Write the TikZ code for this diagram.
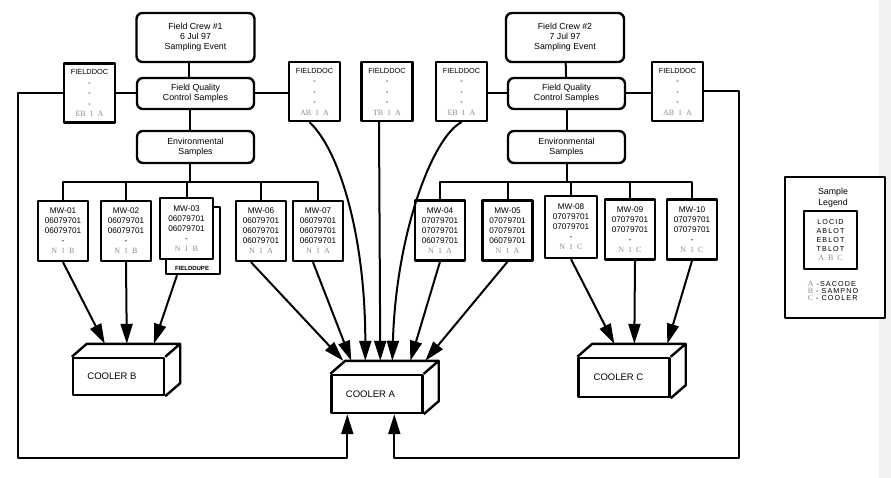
\documentclass[tikz,border=0pt]{standalone}
\usepackage{fontspec}
\setmainfont{Liberation Sans}
\newfontfamily\serifcode{Liberation Serif}
\newfontfamily\spaced[LetterSpace=15]{Liberation Sans}
\usetikzlibrary{arrows.meta}
\def\cd#1{{\serifcode\fontsize{8}{10}\selectfont\color{black!45}#1}}
\begin{document}
\begin{tikzpicture}[x=1pt,y=-1pt,line join=round,
	>={Triangle[length=20pt,width=12pt]},
	box/.style={draw,line width=2.4pt,fill=white,inner sep=1pt,align=center},
	crew/.style={box,rounded corners=6pt,minimum width=118pt,font=\fontsize{8.8}{10}\selectfont},
	doc/.style={box,minimum width=51pt,minimum height=59pt,font=\fontsize{7.4}{10.5}\selectfont},
	mw/.style={box,minimum width=50pt,minimum height=60pt,font=\fontsize{8.2}{10}\selectfont},
	cooler/.style={box,minimum width=91pt,minimum height=38pt,font=\fontsize{9.5}{11}\selectfont},
	wall/.style={line width=2.4pt},
	link/.style={line width=2pt},
	arr/.style={link,->}]
			\useasboundingbox (0,0) rectangle (891,478);
			\fill[black!5] (879,0) rectangle (891,478);
			\def\lid(#1){\draw[wall] (#1.north west) -- ++(15,-13) -| ([shift={(15,-13)}]#1.south east) -- (#1.south east) (#1.north east) -- ++(15,-13);}
			\node[crew,minimum height=49pt] (crewa) at (195.5,37.5) {Field Crew \#1\\6 Jul 97\\Sampling Event};
			\node[crew,minimum width=117pt,minimum height=31pt] (fqca) at (195.5,93.5) {Field Quality\\Control Samples};
			\node[crew,minimum width=117pt,minimum height=32pt] (enva) at (195.5,147) {Environmental\\Samples};
			\node[crew,minimum height=49pt] (crewb) at (565,37.5) {Field Crew \#2\\7 Jul 97\\Sampling Event};
			\node[crew,minimum width=117pt,minimum height=31pt] (fqcb) at (566.5,93.5) {Field Quality\\Control Samples};
			\node[crew,minimum width=117pt,minimum height=32pt] (envb) at (566.5,147) {Environmental\\Samples};
			\node[doc] (docl) at (89.5,93) {FIELDDOC\\-\\-\\-\\\cd{EB\enspace 1\enspace A}};
			\node[doc] (doca) at (314.5,91.5) {FIELDDOC\\-\\-\\-\\\cd{AB\enspace 1\enspace A}};
			\node[doc] (doct) at (387,91.5) {FIELDDOC\\-\\-\\-\\\cd{TB\enspace 1\enspace A}};
			\node[doc] (doce) at (461.5,91.5) {FIELDDOC\\-\\-\\-\\\cd{EB\enspace 1\enspace A}};
			\node[doc] (docr) at (677.5,91.5) {FIELDDOC\\-\\-\\-\\\cd{AB\enspace 1\enspace A}};
			\node[mw] (mw01) at (63,231) {MW-01\\06079701\\06079701\\-\\\cd{N\enspace 1\enspace B}};
			\node[mw] (mw02) at (126,231) {MW-02\\06079701\\06079701\\-\\\cd{N\enspace 1\enspace B}};
			\node[box,minimum width=54pt,minimum height=67pt] (mw03d) at (193,240.5) {};
			\node[font=\fontsize{6}{7}\selectfont\bfseries] (dupe) at (192,268.5) {FIELDDUPE};
			\node[mw,minimum width=53pt,minimum height=61pt] (mw03) at (186.5,228.5) {MW-03\\06079701\\06079701\\-\\\cd{N\enspace 1\enspace B}};
			\node[mw] (mw06) at (261,231) {MW-06\\06079701\\06079701\\06079701\\\cd{N\enspace 1\enspace A}};
			\node[mw] (mw07) at (318,231) {MW-07\\06079701\\06079701\\06079701\\\cd{N\enspace 1\enspace A}};
			\node[mw] (mw04) at (440,230.5) {MW-04\\07079701\\07079701\\06079701\\\cd{N\enspace 1\enspace A}};
			\node[mw] (mw05) at (507.5,230.5) {MW-05\\07079701\\07079701\\06079701\\\cd{N\enspace 1\enspace A}};
			\node[mw,minimum width=52pt,minimum height=62pt] (mw08) at (571,227) {MW-08\\07079701\\07079701\\-\\\cd{N\enspace 1\enspace C}};
			\node[mw] (mw09) at (630,229.5) {MW-09\\07079701\\07079701\\-\\\cd{N\enspace 1\enspace C}};
			\node[mw] (mw10) at (692,229.5) {MW-10\\07079701\\07079701\\-\\\cd{N\enspace 1\enspace C}};
			\node[cooler,minimum height=37pt] (coolerb) at (118.5,376.5) {COOLER B\hspace*{13pt}};
			\node[cooler] (coolera) at (377,394) {COOLER A\hspace*{13pt}};
			\node[cooler,minimum height=39pt] (coolerc) at (624,377.5) {COOLER C\hspace*{11pt}};
			\lid(coolerb)
			\lid(coolera)
			\lid(coolerc)
			\coordinate (busa) at (189.5,182);
			\coordinate (busb) at (566.5,182);
			\coordinate (cornl) at (18,458);
			\coordinate (cornr) at (739,458);
			\draw[link] ([xshift=-7pt]crewa.south) -- ([xshift=-7pt]fqca.north);
			\draw[link] ([xshift=-6pt]fqca.south) -- ([xshift=-6pt]enva.north);
			\draw[link] ([xshift=-6pt]enva.south) -- (busa);
			\draw[link] (mw01.north) |- (busa) -| (mw07.north);
			\foreach \n in {mw02,mw03,mw06}
			\draw[link] (\n.north) -- (\n.north |- busa);
			\draw[link] (crewb) -- (fqcb);
			\draw[link] (fqcb) -- (envb);
			\draw[link] (envb.south) -- (busb);
			\draw[link] (mw04.north) |- (busb) -| (mw10.north);
			\foreach \n in {mw05,mw08,mw09}
			\draw[link] (\n.north) -- (\n.north |- busb);
			\draw[link] (docl.east) -- (docl.east -| fqca.west);
			\draw[link] (fqca.east) -- (fqca.east -| doca.west);
			\draw[link] (fqcb.west) -- (fqcb.west -| doce.east);
			\draw[link] (fqcb.east) -- (fqcb.east -| docr.west);
			\draw[arr] (mw01.south) -- ([shift={(33,-13)}]coolerb.north west);
			\draw[arr] (mw02.south) -- ([shift={(55,-13)}]coolerb.north west);
			\draw[arr] ([xshift=-16pt]mw03d.south) -- ([shift={(82,-13)}]coolerb.north west);
			\draw[arr] ([xshift=-10pt]mw06.south) -- ([shift={(13,-13)}]coolera.north west);
			\draw[arr] ([xshift=-5pt]mw07.south) -- ([shift={(21,-13)}]coolera.north west);
			\draw[arr] ([xshift=-5pt]doca.south) .. controls +(31,29) and +(0,-122) .. ([shift={(35,-13)}]coolera.north west);
			\draw[arr] ([xshift=-8pt]doct.south) -- ([shift={(50,-13)}]coolera.north west);
			\draw[arr] (doce.south) .. controls +(-28,14) and +(4,-130) .. ([shift={(62,-13)}]coolera.north west);
			\draw[arr] (mw04.south) -- ([shift={(80,-13)}]coolera.north west);
			\draw[arr] (mw05.south) -- ([shift={(95,-13)}]coolera.north west);
			\draw[arr] (mw08.south) -- ([shift={(37,-13)}]coolerc.north west);
			\draw[arr] ([xshift=5pt]mw09.south) -- ([shift={(57,-13)}]coolerc.north west);
			\draw[arr] (mw10.south) -- ([shift={(90,-13)}]coolerc.north west);
			\draw[arr] (docl.west) -| (cornl) -| ([xshift=17pt]coolera.south west);
			\draw[arr] (docr.east) -| (cornr) -| ([xshift=64pt]coolera.south west);
			\node[box,minimum width=100pt,minimum height=141pt] (legend) at (835,247.5) {};
			\node[font=\fontsize{8.8}{11.5}\selectfont,align=center] (legtitle) at (833,197.5) {Sample\\Legend};
			\node[box,minimum width=53pt,minimum height=58pt,font=\spaced\fontsize{7.2}{8.8}\selectfont] (legkey) at (830.5,240) {LOCID\\ABLOT\\EBLOT\\TBLOT\\\cd{A\enspace B\enspace C}};
			\node[font=\spaced\fontsize{7.2}{7.2}\selectfont,align=left] (legcode) at (833,291) {\cd{A} -SACODE\\\cd{B} - SAMPNO\\\cd{C} - COOLER};
			\end{tikzpicture}
\end{document}
